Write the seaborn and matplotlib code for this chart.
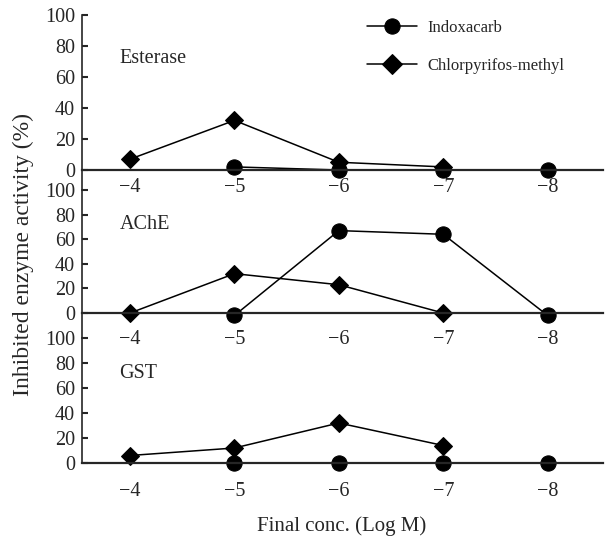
import matplotlib
matplotlib.use("Agg")
import matplotlib.pyplot as plt
import pandas as pd
import seaborn as sns
import numpy as np

sns.set_style("ticks")
plt.rcParams['font.family'] = ['Liberation Serif', 'DejaVu Serif']

conc = [-4, -5, -6, -7, -8]
compounds = ["Indoxacarb", "Chlorpyrifos-methyl"]
panels = ["Esterase", "AChE", "GST"]

# inhibited enzyme activity (%), None = not plotted
esterase_indox = [None, 2, 0, 0, 0]
esterase_chlor = [7, 32, 5, 2, None]
ache_indox = [None, -2, 67, 64, -2]
ache_chlor = [0, 32, 23, 0, None]
gst_indox = [None, 0, 0, 0, 0]
gst_chlor = [6, 12, 32, 14, None]

series = {
    "Esterase": (esterase_indox, esterase_chlor),
    "AChE": (ache_indox, ache_chlor),
    "GST": (gst_indox, gst_chlor),
}

W, H = 606, 539
fig = plt.figure(figsize=(W / 100, H / 100), dpi=100)

# (top px, bottom px, ylim low, x tick label pad)
layout = [(15, 190, -12.9, 6), (190, 338, -20.3, 12), (338, 463, 0, 14)]
left, right = 82, 603

for i, name in enumerate(panels):
    top, bot, ylo, pad = layout[i]
    ax = fig.add_axes([left / W, 1 - bot / H, (right - left) / W, (bot - top) / H])
    indox, chlor = series[name]
    rows = []
    for c, a, b in zip(conc, indox, chlor):
        if a is not None:
            rows.append({"conc": c, "inhib": a, "compound": compounds[0]})
        if b is not None:
            rows.append({"conc": c, "inhib": b, "compound": compounds[1]})
    df = pd.DataFrame(rows)
    sns.lineplot(data=df, x="conc", y="inhib", hue="compound", style="compound",
                 hue_order=compounds, style_order=compounds,
                 markers={compounds[0]: "o", compounds[1]: "D"}, dashes=False,
                 palette=["black", "black"], markersize=11, markeredgecolor="black",
                 linewidth=1.1, clip_on=False, ax=ax, legend=(i == 0))
    for ln in ax.lines:
        if ln.get_marker() == "D":
            ln.set_markersize(9.5)
    ax.set_xlim(-3.54, -8.53)
    ax.set_ylim(ylo, 100)
    ax.set_yticks([0, 20, 40, 60, 80, 100])
    ax.set_xticks(conc)
    ax.set_xlabel("")
    ax.set_ylabel("")
    ax.spines["top"].set_visible(False)
    ax.spines["right"].set_visible(False)
    ax.spines["bottom"].set_position(("data", 0))
    ax.spines["bottom"].set_linewidth(1.6)
    ax.spines["left"].set_linewidth(1.2)
    ax.tick_params(axis="y", direction="in", length=4, width=1.5, labelsize=14.5, pad=5)
    ax.tick_params(axis="x", length=0, labelsize=14.5, pad=pad)
    ax.patch.set_alpha(0)
    ax.text(-3.9, 72, name, fontsize=14.5, ha="left", va="center")
    if i == 0:
        handles, labels = ax.get_legend_handles_labels()
        for h in handles:
            if h.get_marker() == "D":
                h.set_markersize(10)
        ax.legend(handles, labels, loc="upper left", frameon=False,
                  bbox_to_anchor=(367 / W, 1 - 20 / H), bbox_transform=fig.transFigure,
                  fontsize=12, handlelength=3, handletextpad=0.6, labelspacing=1.3,
                  borderpad=0, borderaxespad=0)

fig.text(23 / W, 1 - 255 / H, "Inhibited enzyme activity (%)", rotation=90,
         ha="center", va="center", fontsize=17)
fig.text(342 / W, 1 - 526 / H, "Final conc. (Log M)", ha="center", va="center", fontsize=15)

fig.savefig("out.png", dpi=100)
